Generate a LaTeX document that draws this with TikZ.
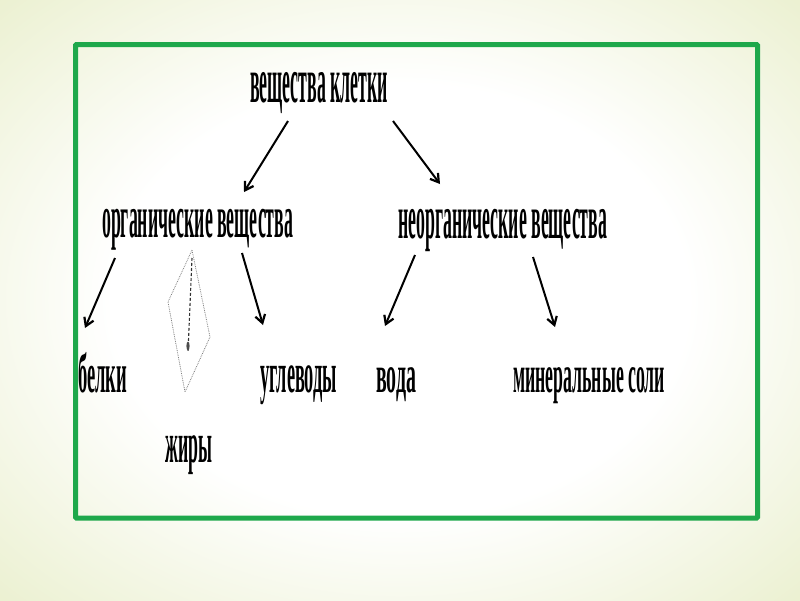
\documentclass[tikz,border=0pt]{standalone}
\usepackage{fontspec}
\usepackage{graphicx}
\setmainfont{Liberation Serif}
\usetikzlibrary{arrows.meta}
\definecolor{bgc}{RGB}{228,235,192}
\definecolor{frame}{RGB}{30,168,75}
\pgfdeclareradialshading{bgsh}{\pgfpoint{0bp}{0bp}}{color(0bp)=(white); color(18bp)=(white); color(42bp)=(bgc); color(50bp)=(bgc)}
\newcommand\Txt[3]{\resizebox{#1pt}{\height}{\fontsize{#2}{#2}\selectfont\bfseries #3}}
\tikzset{
  lbl/.style={inner sep=0pt, anchor=base west},
  arr/.style={line width=2pt, -{Straight Barb[length=8pt,width=10pt,line width=2.2pt]}},
}
\begin{document}
\begin{tikzpicture}[x=1pt,y=-1pt]
\useasboundingbox (0,0) rectangle (800,600);
\shade[shading=bgsh] (0,0) rectangle (800,600);
\draw[frame, line width=5pt, rounded corners=1pt] (75.5,44.5) rectangle (757.5,518);

\node[lbl] (root) at (250,102) {\Txt{138}{64}{вещества клетки}};
\node[lbl] (org) at (102,237) {\Txt{191}{60}{органические вещества}};
\node[lbl] (inorg) at (398,238) {\Txt{209}{62}{неорганические вещества}};
\node[lbl] (belki) at (78,392) {\Txt{49}{56}{белки}};
\node[lbl] (zhiry) at (165,462) {\Txt{47}{57}{жиры}};
\node[lbl] (ugl) at (260,392) {\Txt{77}{57}{углеводы}};
\node[lbl] (voda) at (376,392) {\Txt{40}{53}{вода}};
\node[lbl] (min) at (513,392) {\Txt{152}{53}{минеральные соли}};

\coordinate (r1) at (288,121);
\coordinate (r1e) at (244,192);
\coordinate (r2) at (393,121);
\coordinate (r2e) at (440,184);
\coordinate (o1) at (115,258);
\coordinate (o1e) at (85,328);
\coordinate (o3) at (242,253);
\coordinate (o3e) at (263,325);
\coordinate (i1) at (415,255);
\coordinate (i1e) at (385,326);
\coordinate (i2) at (533,257);
\coordinate (i2e) at (555,327);

\draw[arr] (r1) -- (r1e);
\draw[arr] (r2) -- (r2e);
\draw[arr] (o1) -- (o1e);
\draw[arr] (o3) -- (o3e);
\draw[arr] (i1) -- (i1e);
\draw[arr] (i2) -- (i2e);

% broken arrow to "жиры"
\coordinate (d1) at (192,250);
\coordinate (d2) at (168,302);
\coordinate (d3) at (185,392);
\coordinate (d4) at (210,337);
\draw[fill=white, draw=gray, densely dotted, line width=0.8pt] (d1) -- (d2) -- (d3) -- (d4) -- cycle;
\coordinate (z1) at (192,258);
\coordinate (z2) at (188,352);
\draw[black!80, dash pattern=on 3pt off 2pt, line width=1.1pt] (z1) -- (z2);
\fill[black!70] (188,346) ellipse (1.6 and 4.5);
\end{tikzpicture}
\end{document}
